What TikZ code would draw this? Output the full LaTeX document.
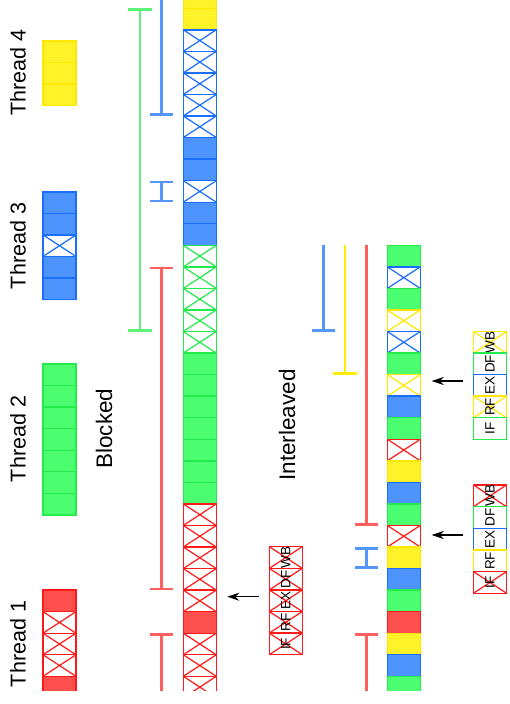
\documentclass[tikz,border=0pt]{standalone}
\usepackage{fontspec}
\setmainfont{Liberation Sans}
\usetikzlibrary{arrows.meta}

\definecolor{redfill}{RGB}{255,80,80}
\definecolor{redline}{RGB}{255,25,25}
\definecolor{greenfill}{RGB}{76,255,112}
\definecolor{greenline}{RGB}{35,235,75}
\definecolor{bluefill}{RGB}{77,148,255}
\definecolor{blueline}{RGB}{25,110,255}
\definecolor{yellowfill}{RGB}{255,242,40}
\definecolor{yellowline}{RGB}{255,232,0}
\definecolor{redbar}{RGB}{255,95,95}
\definecolor{greenbar}{RGB}{90,245,120}
\definecolor{bluebar}{RGB}{85,150,250}
\definecolor{yellowbar}{RGB}{255,238,0}

\tikzset{
  crossed/.style={fill=white, path picture={\draw[#1, line width=1.2pt]
      (path picture bounding box.north west) -- (path picture bounding box.south east)
      (path picture bounding box.north east) -- (path picture bounding box.south west);}},
  cellbase/.style={line width=1.4pt},
  rfill/.style={cellbase, draw=redline, fill=redfill},
  gfill/.style={cellbase, draw=greenline, fill=greenfill},
  bfill/.style={cellbase, draw=blueline, fill=bluefill},
  yfill/.style={cellbase, draw=yellowline, fill=yellowfill},
  rcross/.style={cellbase, draw=redline, crossed=redline},
  gcross/.style={cellbase, draw=greenline, crossed=greenline},
  bcross/.style={cellbase, draw=blueline, crossed=blueline},
  ycross/.style={cellbase, draw=yellowline, crossed=yellowline},
  gplain/.style={cellbase, draw=greenline, fill=white},
  bplain/.style={cellbase, draw=blueline, fill=white},
  yplain/.style={cellbase, draw=yellowline, fill=white},
  interval/.style={line width=2.6pt, draw=#1, arrows={Bar[width=23.3pt]-Bar[width=23.3pt]}},
  openint/.style={line width=2.6pt, draw=#1, arrows={-Bar[width=23.3pt]}},
  ptr/.style={line width=1.4pt, -{Stealth[length=12pt,width=8pt]}},
  threadlbl/.style={rotate=90, inner sep=0pt, font=\fontsize{21.5}{24}\selectfont},
  sectlbl/.style={rotate=90, inner sep=0pt, font=\fontsize{22.5}{26}\selectfont},
  stage/.style={rotate=90, minimum width=21.55pt, minimum height=33pt, inner sep=0pt,
      font=\fontsize{13.5}{14}\selectfont}
}

\begin{document}
\begin{tikzpicture}[x=1pt, y=-1pt]
    \useasboundingbox (0,0) rectangle (509,704);
    \clip (0,0) rectangle (509,690.7);

    \foreach \st [count=\k from 0] in {yfill,yfill,yfill}
        \draw[\st] (43,{41+\k*21.55}) rectangle ++(33,21.55);
    \foreach \st [count=\k from 0] in {bfill,bfill,bcross,bfill,bfill}
        \draw[\st] (43,{191.8+\k*21.55}) rectangle ++(33,21.55);
    \foreach \st [count=\k from 0] in {gfill,gfill,gfill,gfill,gfill,gfill,gfill}
        \draw[\st] (43,{364+\k*21.55}) rectangle ++(33,21.55);
    \foreach \st [count=\k from 0] in {rfill,rcross,rcross,rcross,rfill}
        \draw[\st] (43,{590.1+\k*21.55}) rectangle ++(33,21.55);

    \node[threadlbl] (thr4) at (18,72.5) {Thread 4};
    \node[threadlbl] (thr3) at (18,246) {Thread 3};
    \node[threadlbl] (thr2) at (18,439) {Thread 2};
    \node[threadlbl] (thr1) at (18,644) {Thread 1};

    \foreach \st [count=\k from -12] in {yfill,yfill,bcross,bcross,bcross,bcross,bcross,
            bfill,bfill,bcross,bfill,bfill,gcross,gcross,gcross,gcross,gcross,
            gfill,gfill,gfill,gfill,gfill,gfill,gfill,rcross,rcross,rcross,rcross,rcross,
            rfill,rcross,rcross,rcross}
        \draw[\st] (183.3,{245.3+\k*21.55}) rectangle ++(33,21.55);

    \draw[interval=greenbar] (140,8.25) -- (140,331.5);
    \draw[openint=bluebar] (161.7,-20) -- (161.7,116);
    \draw[interval=bluebar] (161.7,180.65) -- (161.7,202.2);
    \draw[interval=redbar] (161.7,266.85) -- (161.7,590.1);
    \draw[openint=redbar] (161.7,720) -- (161.7,633.2);

    \node[sectlbl] (blocked) at (104,428.5) {Blocked};

    \foreach \lbl/\st [count=\i from 0] in {WB/rcross,DF/rcross,EX/rcross,RF/rcross,IF/rcross}
        \node[stage,\st] (bl-\lbl) at (285.8,{546.7+(\i+0.5)*21.6}) {\lbl};
    \coordinate (bl-tail) at (259.3,596.7);
    \coordinate (bl-head) at (227.3,596.7);
    \draw[ptr] (bl-tail) -- (bl-head);

    \foreach \st [count=\k from 0] in {gfill,bcross,gfill,ycross,bcross,gfill,ycross,bfill,
            gfill,rcross,yfill,bfill,gfill,rcross,yfill,bfill,gfill,rfill,yfill,bfill,gfill}
        \draw[\st] (387.3,{245.3+\k*21.55}) rectangle ++(33,21.55);

    \draw[openint=bluebar] (323.3,245.3) -- (323.3,331.5);
    \draw[openint=yellowbar] (345,245.3) -- (345,374.6);
    \draw[openint=redbar] (366.3,245.3) -- (366.3,525.5);
    \draw[interval=bluebar] (366.3,547) -- (366.3,568.55);
    \draw[openint=redbar] (366.3,720) -- (366.3,633.2);

    \node[sectlbl] (interleaved) at (287,425) {Interleaved};

    \foreach \lbl/\st [count=\i from 0] in {WB/ycross,DF/gplain,EX/bplain,RF/ycross,IF/gplain}
        \node[stage,\st] (ia-\lbl) at (490,{331.7+(\i+0.5)*21.5}) {\lbl};
    \foreach \lbl/\st [count=\i from 0] in {WB/rcross,DF/gplain,EX/bplain,RF/yplain,IF/rcross}
        \node[stage,\st] (ib-\lbl) at (490,{485+(\i+0.5)*21.65}) {\lbl};
    \coordinate (ia-tail) at (463.3,381);
    \coordinate (ia-head) at (431.7,381);
    \coordinate (ib-tail) at (463.3,535);
    \coordinate (ib-head) at (431.7,535);
    \draw[ptr] (ia-tail) -- (ia-head);
    \draw[ptr] (ib-tail) -- (ib-head);
\end{tikzpicture}
\end{document}
